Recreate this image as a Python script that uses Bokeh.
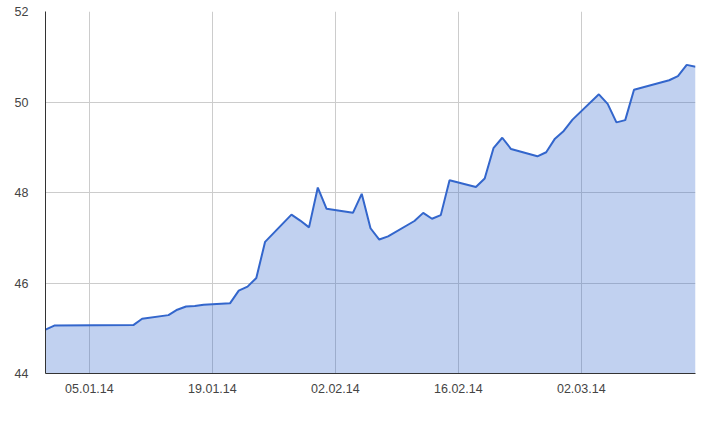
from datetime import datetime
import pandas as pd
from bokeh.plotting import figure
from bokeh.models import ColumnDataSource, Range1d, FixedTicker, DatetimeTickFormatter
from bokeh.embed import file_html
from bokeh.resources import INLINE

dates = ["2013-12-31", "2014-01-01", "2014-01-10", "2014-01-11", "2014-01-14",
         "2014-01-15", "2014-01-16", "2014-01-17", "2014-01-18", "2014-01-21",
         "2014-01-22", "2014-01-23", "2014-01-24", "2014-01-25", "2014-01-28",
         "2014-01-29", "2014-01-30", "2014-01-31", "2014-02-01", "2014-02-04",
         "2014-02-05", "2014-02-06", "2014-02-07", "2014-02-08", "2014-02-11",
         "2014-02-12", "2014-02-13", "2014-02-14", "2014-02-15", "2014-02-18",
         "2014-02-19", "2014-02-20", "2014-02-21", "2014-02-22", "2014-02-25",
         "2014-02-26", "2014-02-27", "2014-02-28", "2014-03-01", "2014-03-04",
         "2014-03-05", "2014-03-06", "2014-03-07", "2014-03-08", "2014-03-12",
         "2014-03-13", "2014-03-14", "2014-03-15"]
values = [44.97, 45.06, 45.07, 45.21, 45.29,
          45.41, 45.48, 45.49, 45.52, 45.55,
          45.83, 45.92, 46.11, 46.91, 47.51,
          47.38, 47.23, 48.11, 47.64, 47.55,
          47.97, 47.21, 46.96, 47.03, 47.37,
          47.55, 47.42, 47.50, 48.27, 48.12,
          48.31, 48.98, 49.21, 48.96, 48.80,
          48.89, 49.19, 49.36, 49.61, 50.17,
          49.96, 49.55, 49.60, 50.27, 50.48,
          50.57, 50.82, 50.78]
x_tick_dates = ["2014-01-05", "2014-01-19", "2014-02-02", "2014-02-16", "2014-03-02"]
y_ticks = [44, 46, 48, 50, 52]

src = ColumnDataSource(dict(date=pd.to_datetime(dates), value=values))

p = figure(width=707, height=408, output_backend="svg", toolbar_location=None,
           x_axis_type="datetime",
           x_range=Range1d(datetime(2013, 12, 31), datetime(2014, 3, 15)),
           y_range=Range1d(44, 52),
           min_border_left=45, min_border_right=12, min_border_top=11, min_border_bottom=35)
p.outline_line_color = None
p.background_fill_color = "white"
p.border_fill_color = "white"

p.varea(x="date", y1=44, y2="value", source=src, fill_color="#3366cc", fill_alpha=0.3)
p.line(x="date", y="value", source=src, line_color="#3366cc", line_width=2)

xt = [pd.Timestamp(d).value / 1e6 for d in x_tick_dates]
p.xaxis.ticker = FixedTicker(ticks=xt)
p.xgrid.ticker = FixedTicker(ticks=xt)
p.xaxis.formatter = DatetimeTickFormatter(days="%d.%m.%y", months="%d.%m.%y")
p.yaxis.ticker = FixedTicker(ticks=y_ticks)
p.ygrid.ticker = FixedTicker(ticks=y_ticks)

for g in (p.xgrid, p.ygrid):
    g.grid_line_color = "#cccccc"
    g.grid_line_width = 1

for ax in (p.xaxis, p.yaxis):
    ax.axis_line_color = "#333333"
    ax.axis_line_width = 1
    ax.major_tick_line_color = None
    ax.minor_tick_line_color = None
    ax.major_label_text_font = "Liberation Sans"
    ax.major_label_text_font_size = "12.5px"
    ax.major_label_text_color = "#444444"
p.yaxis.major_label_standoff = 11
p.xaxis.major_label_standoff = 4

open("out.html", "w").write(file_html(p, INLINE))
